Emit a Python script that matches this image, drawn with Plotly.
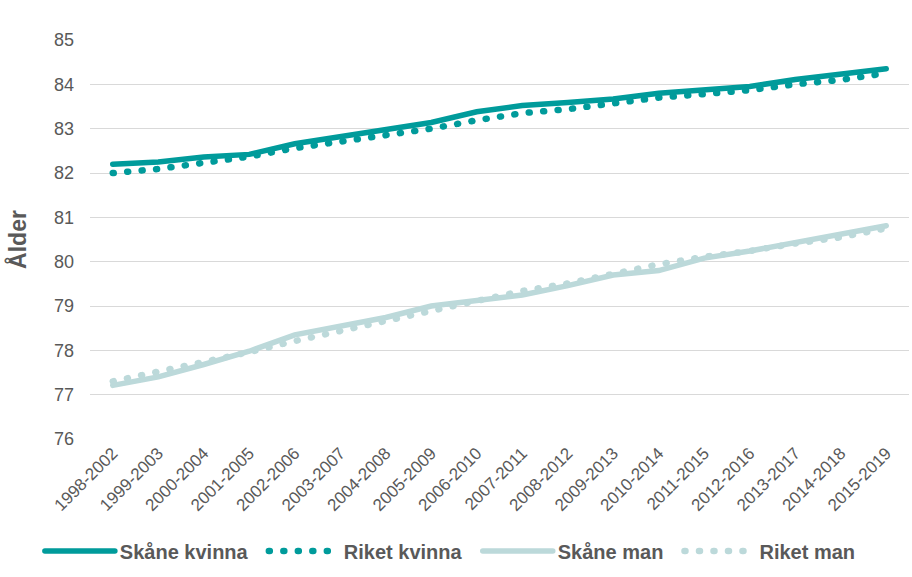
import plotly.graph_objects as go

categories = ["1998-2002", "1999-2003", "2000-2004", "2001-2005", "2002-2006", "2003-2007",
              "2004-2008", "2005-2009", "2006-2010", "2007-2011", "2008-2012", "2009-2013",
              "2010-2014", "2011-2015", "2012-2016", "2013-2017", "2014-2018", "2015-2019"]

skane_kvinna = [82.20, 82.25, 82.36, 82.42, 82.66, 82.82, 82.99, 83.14, 83.38, 83.52,
                83.59, 83.67, 83.80, 83.89, 83.95, 84.11, 84.22, 84.35]
riket_kvinna = [82.00, 82.09, 82.23, 82.37, 82.56, 82.71, 82.86, 83.00, 83.19, 83.35,
                83.44, 83.56, 83.70, 83.78, 83.87, 84.00, 84.10, 84.25]
skane_man = [77.21, 77.40, 77.68, 77.98, 78.35, 78.56, 78.74, 79.00, 79.13, 79.25,
             79.46, 79.70, 79.80, 80.08, 80.24, 80.43, 80.59, 80.81]
riket_man = [77.30, 77.51, 77.75, 77.96, 78.21, 78.44, 78.68, 78.88, 79.12, 79.34,
             79.51, 79.72, 79.94, 80.11, 80.24, 80.41, 80.55, 80.75]

series_names = ["Skåne kvinna", "Riket kvinna", "Skåne man", "Riket man"]
y_ticks = [76, 77, 78, 79, 80, 81, 82, 83, 84, 85]

TEAL = "#009B9B"
LIGHT = "#BCD9DA"
GREY = "#595959"
FONT = "Liberation Sans, Arial, sans-serif"
PAD = "\u00a0\u00a0"

fig = go.Figure()
fig.add_trace(go.Scatter(x=categories, y=skane_kvinna, mode="lines", name=series_names[0] + PAD,
                         line=dict(color=TEAL, width=5.5)))
fig.add_trace(go.Scatter(x=categories, y=riket_kvinna, mode="lines", name=series_names[1] + PAD,
                         line=dict(color=TEAL, width=6.5, dash="1px,13.5px")))
fig.add_trace(go.Scatter(x=categories, y=skane_man, mode="lines", name=series_names[2] + PAD,
                         line=dict(color=LIGHT, width=5.5)))
fig.add_trace(go.Scatter(x=categories, y=riket_man, mode="lines", name=series_names[3],
                         line=dict(color=LIGHT, width=6.5, dash="1px,13.5px")))

fig.update_layout(
    width=912, height=577,
    margin=dict(l=90, r=3, t=40, b=138, autoexpand=False),
    paper_bgcolor="white", plot_bgcolor="white",
    font=dict(family=FONT, color=GREY),
    showlegend=True,
    legend=dict(orientation="h", x=0.44, xanchor="center", y=-0.281, yanchor="middle",
                font=dict(family=FONT, size=20, color=GREY, weight="bold"),
                itemwidth=70, tracegroupgap=0, traceorder="normal"),
    xaxis=dict(type="category", range=[-0.5, len(categories) - 0.5], tickangle=-45,
               tickfont=dict(size=17, color=GREY),
               showgrid=False, showline=False, ticks="", automargin=False),
    yaxis=dict(range=[76, 85], tickvals=y_ticks, tickfont=dict(size=18, color=GREY),
               showgrid=True, gridcolor="#D9D9D9", gridwidth=1, zeroline=False,
               showline=False, ticks="", ticklabelstandoff=15, automargin=False,
               title=dict(text="Ålder", font=dict(size=23, color=GREY, weight="bold"),
                          standoff=20)),
)

post = """
var s = document.createElement('style');
s.innerHTML = 'path.js-line { stroke-linecap: round; }';
document.head.appendChild(s);
"""
fig.write_html("out.html", post_script=post)
